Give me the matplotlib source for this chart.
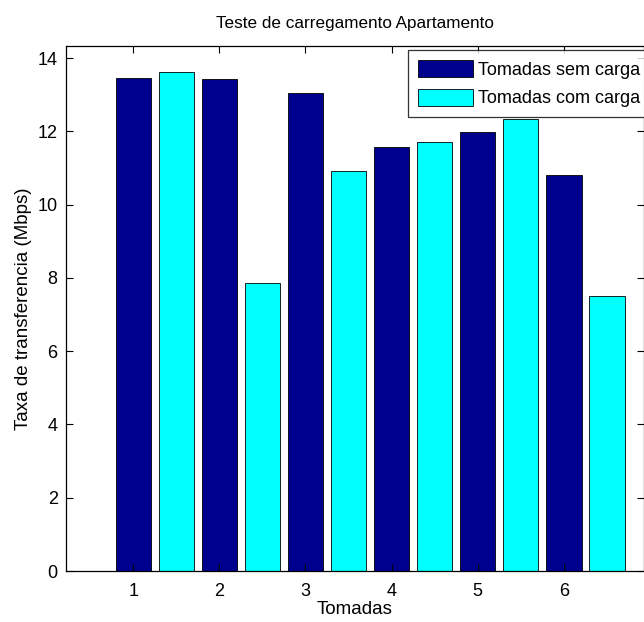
import numpy as np
import matplotlib
matplotlib.use("Agg")
import matplotlib.pyplot as plt

plt.rcParams['font.family'] = ['Liberation Sans', 'DejaVu Sans']

tomadas = [1, 2, 3, 4, 5, 6]
sem_carga = [13.47, 13.42, 13.05, 11.56, 11.97, 10.81]
com_carga = [13.61, 7.86, 10.92, 11.71, 12.33, 7.50]
labels = ['Tomadas sem carga', 'Tomadas com carga']

fig = plt.figure(figsize=(6.44, 6.22), dpi=100)
ax = fig.add_axes([66/644, 1 - 571/622, 578/644, 525/622])

x = np.array(tomadas)
b1 = ax.bar(x, sem_carga, width=0.41, color='#00008F', edgecolor='black', linewidth=0.6, label=labels[0])
b2 = ax.bar(x + 0.5, com_carga, width=0.41, color='#00FFFF', edgecolor='black', linewidth=0.6, label=labels[1])

ax.set_xlim(0.22, 6.93)
ax.set_ylim(0, 14.33)
ax.set_xticks(tomadas)
ax.set_yticks(range(0, 15, 2))
ax.tick_params(direction='in', top=True, right=True, length=5, labelsize=13, width=0.8, pad=6)
ax.tick_params(axis='x', pad=9)
for s in ax.spines.values():
    s.set_linewidth(0.9)

ax.set_title('Teste de carregamento Apartamento', fontsize=12.3, pad=13)
ax.set_xlabel('Tomadas', fontsize=13.5, labelpad=0)
ax.set_ylabel('Taxa de transferencia (Mbps)', fontsize=13.5, labelpad=4)

leg = fig.legend(handles=[b1, b2], loc='upper left', bbox_to_anchor=(408/644, 1 - 50/622),
                 fontsize=13, frameon=True, fancybox=False, borderaxespad=0,
                 handlelength=3.05, handleheight=1.1, handletextpad=0.25,
                 borderpad=0.55, labelspacing=0.55)
leg.get_frame().set_edgecolor('black')
leg.get_frame().set_linewidth(0.9)

fig.savefig('out.png', dpi=100)
